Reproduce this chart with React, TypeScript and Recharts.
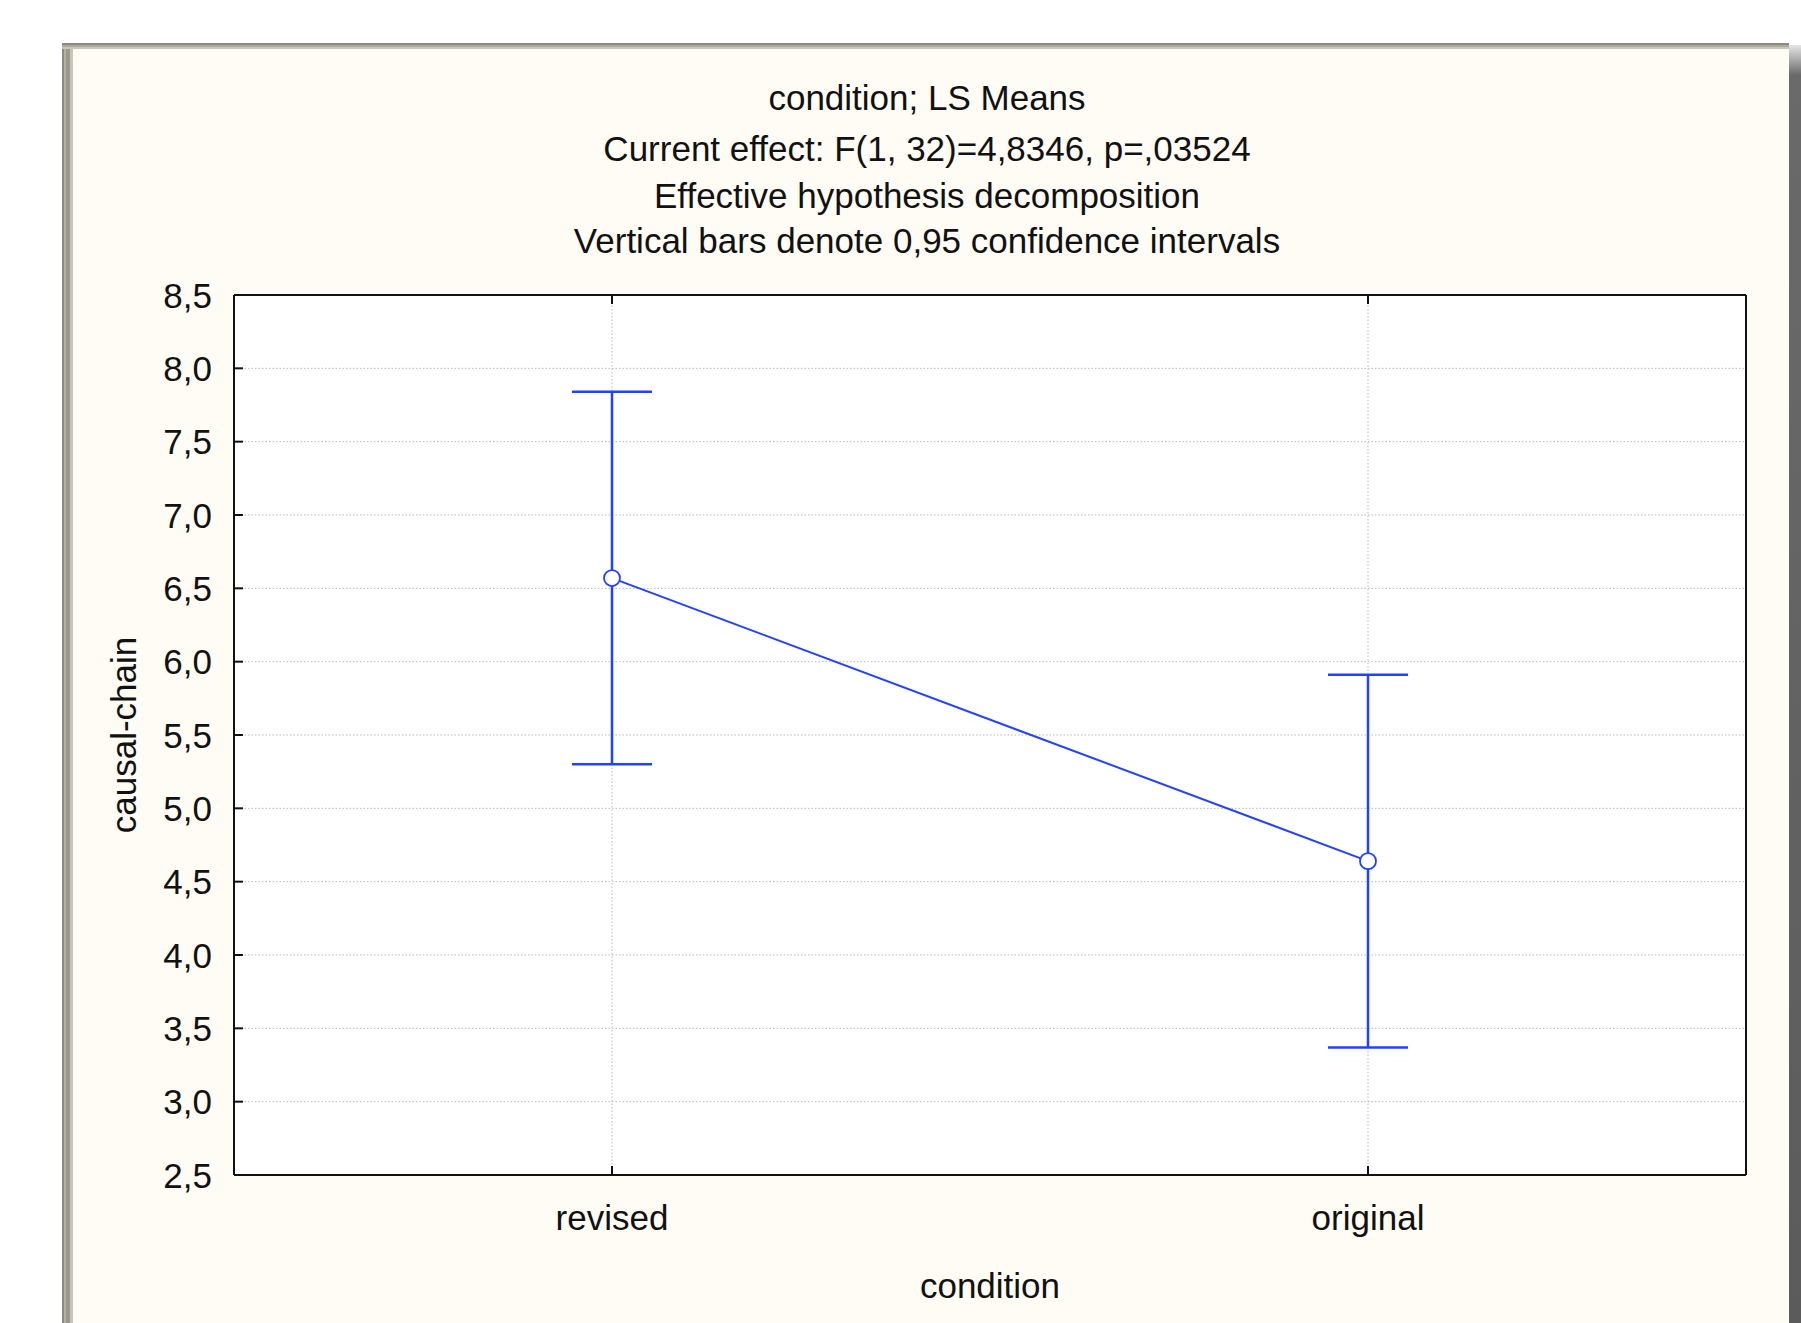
import { LineChart, Line, XAxis, YAxis, CartesianGrid, ErrorBar, Label } from "recharts";

const conditions = ["revised", "original"];
const lsMeans = [6.57, 4.64];
const ci95 = [1.27, 1.27];
const yTicks = [2.5, 3, 3.5, 4, 4.5, 5, 5.5, 6, 6.5, 7, 7.5, 8, 8.5];
const titleLines = [
  "condition; LS Means",
  "Current effect: F(1, 32)=4,8346, p=,03524",
  "Effective hypothesis decomposition",
  "Vertical bars denote 0,95 confidence intervals",
];

const data = conditions.map((c, i) => ({ condition: c, mean: lsMeans[i], ci: ci95[i] }));

const BLUE = "#2342ff";
const FONT = "'Liberation Sans', Arial, sans-serif";
const FS = 35;
const TICK_LEN = 9;
const Y_GAP = 22;
const X_GAP = 30;

const W = 1801;
const H = 1323;
const MARGIN = { top: 294, right: 54, bottom: 18, left: 124 };
const X_AXIS_H = 130;
const PLOT_BOTTOM = H - MARGIN.bottom - X_AXIS_H;

const fmt = (v: number) => v.toFixed(1).replace(".", ",");

// inward tick marks, like the original package draws them
const LeftTick = ({ x, y, payload }: any) => (
  <g>
    <line x1={x + Y_GAP} x2={x + Y_GAP + TICK_LEN} y1={y} y2={y} stroke="#111" strokeWidth={2} />
    <text x={x} y={y} dy="0.36em" textAnchor="end" fontSize={FS} fontFamily={FONT} fill="#111">
      {fmt(payload.value)}
    </text>
  </g>
);

const RightTick = ({ x, y }: any) => (
  <line x1={x - TICK_LEN} x2={x} y1={y} y2={y} stroke="#111" strokeWidth={2} />
);

const BottomTick = ({ x, y, payload }: any) => (
  <g>
    <line x1={x} x2={x} y1={PLOT_BOTTOM} y2={PLOT_BOTTOM - TICK_LEN} stroke="#111" strokeWidth={2} />
    <text x={x} y={y} dy="0.71em" textAnchor="middle" fontSize={FS} fontFamily={FONT} fill="#111">
      {payload.value}
    </text>
  </g>
);

const TopTick = ({ x, y }: any) => (
  <line x1={x} x2={x} y1={y} y2={y + TICK_LEN} stroke="#111" strokeWidth={2} />
);

export default function App() {
  return (
    <div style={{ position: "absolute", left: 0, top: 0, width: W, height: H, overflow: "hidden", background: "#fff" }}>
      {/* window frame */}
      <div style={{ position: "absolute", left: 62, top: 43, width: 1727, height: 1400, background: "#fffbf5" }} />
      <div
        style={{
          position: "absolute", left: 62, top: 43, width: 11, height: 1400,
          background: "linear-gradient(to right, #8c8b7d 0 2px, #b3b2a5 2px 4px, #9a998b 4px 8px, #c6c5b9 8px 11px)",
        }}
      />
      <div
        style={{
          position: "absolute", left: 62, top: 43, width: 1727, height: 6,
          background: "linear-gradient(to bottom, #8c8b7d 0 2px, #aaa99b 2px 4px, #c8c7ba 4px 6px)",
        }}
      />
      <div
        style={{
          position: "absolute", left: 1789, top: 45, width: 12, height: 1400,
          background: "linear-gradient(to bottom, #e6e6e6 0px, #6a6a6a 30px, #5a5a5a 100%)",
        }}
      />
      {titleLines.map((t, i) => (
        <div
          key={i}
          style={{
            position: "absolute", left: 427, width: 1000, top: [78, 129, 176, 221][i],
            lineHeight: "40px", textAlign: "center", fontSize: FS, fontFamily: FONT, color: "#111",
            whiteSpace: "nowrap",
          }}
        >
          {t}
        </div>
      ))}
      <div style={{ position: "absolute", left: 0, top: 0 }}>
        <LineChart width={W} height={H} data={data} margin={MARGIN}>
          <CartesianGrid fill="#ffffff" stroke="#b8b8b8" strokeDasharray="1.5 2" />
          <XAxis
            dataKey="condition"
            scale="band"
            height={X_AXIS_H}
            tickSize={0}
            tickMargin={X_GAP}
            tick={<BottomTick />}
            axisLine={{ stroke: "#111", strokeWidth: 2 }}
            tickLine={false}
          >
            <Label value="condition" position="insideBottom" offset={7} fontSize={FS} fontFamily={FONT} fill="#111" />
          </XAxis>
          <XAxis
            xAxisId="top"
            orientation="top"
            dataKey="condition"
            scale="band"
            height={1}
            tickSize={0}
            tickMargin={0}
            tick={<TopTick />}
            axisLine={{ stroke: "#111", strokeWidth: 2 }}
            tickLine={false}
          />
          <YAxis
            width={110}
            domain={[2.5, 8.5]}
            ticks={yTicks}
            interval={0}
            tickSize={0}
            tickMargin={Y_GAP}
            tick={<LeftTick />}
            axisLine={{ stroke: "#111", strokeWidth: 2 }}
            tickLine={false}
          >
            <Label
              value="causal-chain"
              angle={-90}
              position="insideLeft"
              offset={0}
              fontSize={FS}
              fontFamily={FONT}
              fill="#111"
              style={{ textAnchor: "middle" }}
            />
          </YAxis>
          <YAxis
            yAxisId="right"
            orientation="right"
            width={1}
            domain={[2.5, 8.5]}
            ticks={yTicks}
            interval={0}
            tickSize={0}
            tickMargin={0}
            tick={<RightTick />}
            axisLine={{ stroke: "#111", strokeWidth: 2 }}
            tickLine={false}
          />
          <Line
            type="linear"
            dataKey="mean"
            stroke={BLUE}
            strokeWidth={2}
            dot={{ r: 8, fill: "#fff", stroke: BLUE, strokeWidth: 1.8 }}
            activeDot={false}
            isAnimationActive={false}
          >
            <ErrorBar dataKey="ci" direction="y" width={40} stroke={BLUE} strokeWidth={2.5} isAnimationActive={false} />
          </Line>
        </LineChart>
      </div>
    </div>
  );
}
